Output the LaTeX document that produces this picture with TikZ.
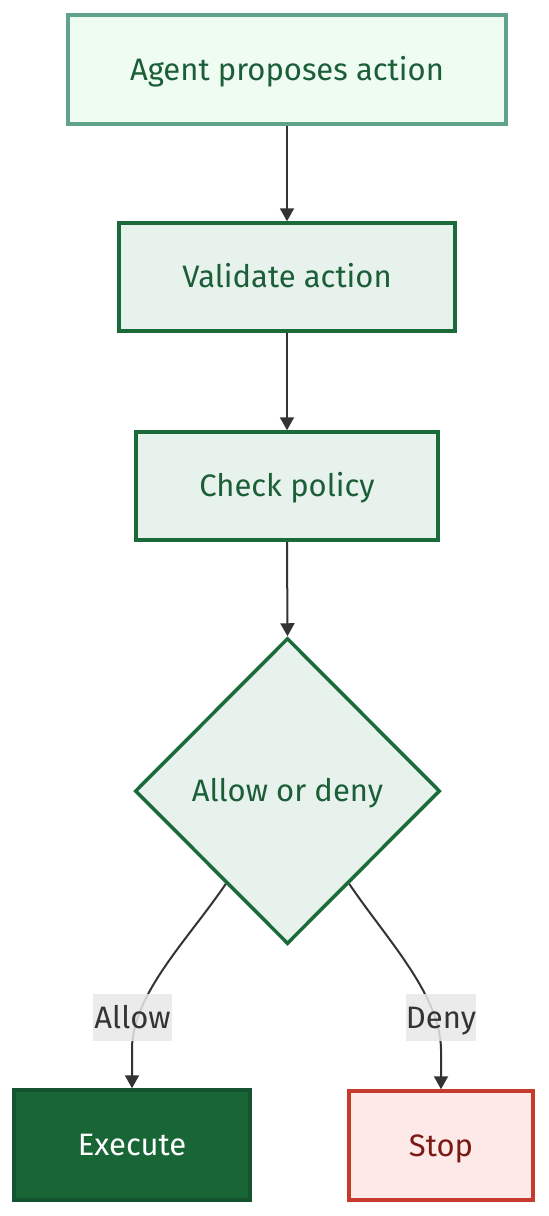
\documentclass[tikz,border=0pt]{standalone}
\usepackage{fontspec}
\setmainfont{Fira Sans}
\usetikzlibrary{shapes.geometric,arrows.meta,calc}
\definecolor{edgec}{HTML}{333333}
\definecolor{startb}{HTML}{5FA38A}
\definecolor{startf}{HTML}{EFFCF2}
\definecolor{stepb}{HTML}{1B6B3A}
\definecolor{stepf}{HTML}{E7F2EC}
\definecolor{stept}{HTML}{1B5E37}
\definecolor{exef}{HTML}{186535}
\definecolor{exeb}{HTML}{145230}
\definecolor{stopf}{HTML}{FCE9E8}
\definecolor{stopb}{HTML}{C83A2C}
\definecolor{stopt}{HTML}{7B1A12}
\definecolor{lblf}{HTML}{E8E8E8}
\tikzset{
  txt/.style={font=\fontsize{31}{36}\selectfont, text height=28pt, text depth=7pt},
  box/.style={rectangle, line width=3.5pt, inner sep=0pt, txt},
  startbox/.style={box, draw=startb, fill=startf, text=stept},
  stepbox/.style={box, draw=stepb, fill=stepf, text=stept},
  decbox/.style={diamond, aspect=1, draw=stepb, fill=stepf, text=stept, line width=3.5pt, inner sep=0pt,
    minimum width=305pt, minimum height=306pt, txt},
  exebox/.style={box, draw=exeb, fill=exef, text=white},
  stopbox/.style={box, draw=stopb, fill=stopf, text=stopt},
  conn/.style={draw=edgec, line width=2pt, -{Triangle[length=13pt,width=14pt]}},
  lbl/.style={fill=lblf, fill opacity=0.85, text opacity=1, text=edgec, inner sep=0pt,
    minimum height=47pt, txt},
}
\begin{document}
\begin{tikzpicture}[x=1pt,y=-1pt]
\useasboundingbox (0,0) rectangle (549,1216);
\node[startbox, minimum width=438pt, minimum height=109pt] (a) at (287,69.5) {Agent proposes action};
\node[stepbox, minimum width=336pt, minimum height=108pt] (v) at (287,277) {Validate action};
\node[stepbox, minimum width=302pt, minimum height=108pt] (c) at (287,486) {Check policy};
\node[decbox] (d) at (287.5,791) {Allow or deny};
\node[exebox, minimum width=236pt, minimum height=110pt] (e) at (132,1145) {Execute};
\node[stopbox, minimum width=184pt, minimum height=109pt] (s) at (441,1145.5) {Stop};

\draw[conn] (a.south) -- (v.north);
\draw[conn] (v.south) -- (c.north);
\draw[conn] (c.south) -- (d.north);

\coordinate (dl) at ($(d.south west)!0.2!(d.south)$);
\coordinate (dr) at ($(d.south east)!0.2!(d.south)$);
\draw[conn] (dl) .. controls ($(dl)+(-38,56)$) and ($(e.north)+(1,-95)$) .. ($(e.north)+(0,-40)$) -- (e.north);
\draw[conn] (dr) .. controls ($(dr)+(38,56)$) and ($(s.north)+(-1,-95)$) .. ($(s.north)+(0,-40)$) -- (s.north);

\node[lbl, minimum width=79pt] (la) at (132.5,1017.5) {Allow};
\node[lbl, minimum width=70pt] (ld) at (441,1017.5) {Deny};
\end{tikzpicture}
\end{document}
